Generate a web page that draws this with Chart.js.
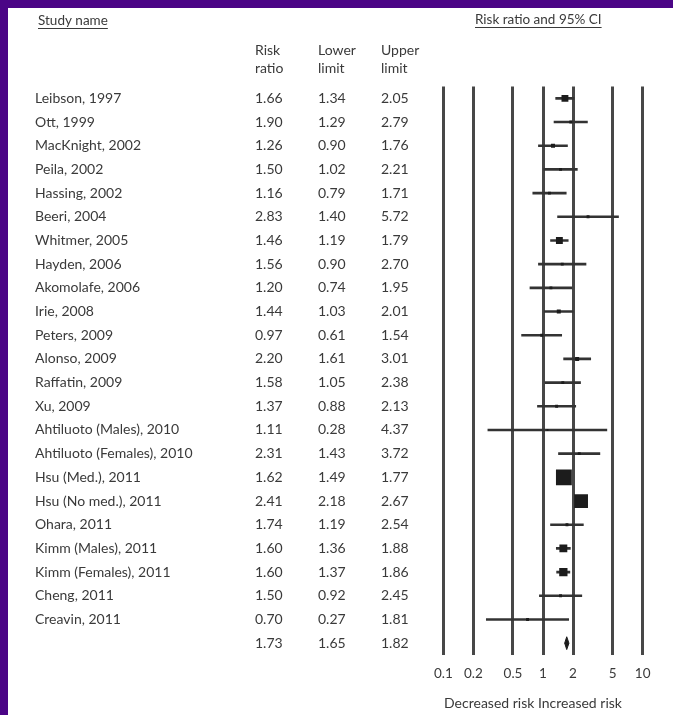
<!DOCTYPE html>
<html>
<head>
<meta charset="utf-8">
<script src="https://cdn.jsdelivr.net/npm/chart.js@4.4.1/dist/chart.umd.min.js"></script>
<style>
  html, body { margin: 0; padding: 0; }
  body { width: 673px; height: 715px; background: #4b0586; position: relative; overflow: hidden; }
  #panel { position: absolute; left: 8px; top: 8px; width: 665px; height: 707px; background: #fff; }
</style>
</head>
<body>
<div id="panel"><canvas id="forest"></canvas></div>
<script>
// study rows, top to bottom
const studies = [
  'Leibson, 1997', 'Ott, 1999', 'MacKnight, 2002', 'Peila, 2002', 'Hassing, 2002',
  'Beeri, 2004', 'Whitmer, 2005', 'Hayden, 2006', 'Akomolafe, 2006', 'Irie, 2008',
  'Peters, 2009', 'Alonso, 2009', 'Raffatin, 2009', 'Xu, 2009',
  'Ahtiluoto (Males), 2010', 'Ahtiluoto (Females), 2010', 'Hsu (Med.), 2011',
  'Hsu (No med.), 2011', 'Ohara, 2011', 'Kimm (Males), 2011', 'Kimm (Females), 2011',
  'Cheng, 2011', 'Creavin, 2011'
];
const riskRatio = [1.66, 1.90, 1.26, 1.50, 1.16, 2.83, 1.46, 1.56, 1.20, 1.44, 0.97, 2.20,
  1.58, 1.37, 1.11, 2.31, 1.62, 2.41, 1.74, 1.60, 1.60, 1.50, 0.70];
const lowerLimit = [1.34, 1.29, 0.90, 1.02, 0.79, 1.40, 1.19, 0.90, 0.74, 1.03, 0.61, 1.61,
  1.05, 0.88, 0.28, 1.43, 1.49, 2.18, 1.19, 1.36, 1.37, 0.92, 0.27];
const upperLimit = [2.05, 2.79, 1.76, 2.21, 1.71, 5.72, 1.79, 2.70, 1.95, 2.01, 1.54, 3.01,
  2.38, 2.13, 4.37, 3.72, 1.77, 2.67, 2.54, 1.88, 1.86, 2.45, 1.81];
const weights = [5.1, 0.9, 1.7, 0.9, 0.9, 0.9, 5.1, 0.9, 0.9, 1.7, 0.9, 1.7,
  0.9, 0.9, 0.4, 0.9, 27, 20.5, 0.9, 6.7, 7.4, 0.9, 0.9];
// pooled estimate: risk ratio, lower, upper
const pooled = [1.73, 1.65, 1.82];
const tickValues = [0.1, 0.2, 0.5, 1, 2, 5, 10];
const tickLabels = ['0.1', '0.2', '0.5', '1', '2', '5', '10'];

const textColor = '#3a3a3a';
const markColor = '#1c1c1c';
const fontFamily = 'Lato, "Open Sans", sans-serif';
const pooledRow = studies.length;

// text columns: names, values and headers
const tablePlugin = {
  id: 'studyTable',
  afterDraw(chart) {
    const { ctx, scales: { x, y } } = chart;
    ctx.save();
    ctx.fillStyle = textColor;
    ctx.strokeStyle = textColor;
    ctx.font = '14px ' + fontFamily;
    ctx.textBaseline = 'middle';
    ctx.textAlign = 'left';

    const colName = 27, colRR = 247, colLo = 310, colHi = 373;
    studies.forEach((name, i) => {
      const py = y.getPixelForValue(i);
      ctx.fillText(name, colName, py);
      ctx.fillText(riskRatio[i].toFixed(2), colRR, py);
      ctx.fillText(lowerLimit[i].toFixed(2), colLo, py);
      ctx.fillText(upperLimit[i].toFixed(2), colHi, py);
    });
    const pp = y.getPixelForValue(pooledRow);
    ctx.fillText(pooled[0].toFixed(2), colRR, pp);
    ctx.fillText(pooled[1].toFixed(2), colLo, pp);
    ctx.fillText(pooled[2].toFixed(2), colHi, pp);

    // column headers
    ctx.fillText('Risk', colRR, 42);
    ctx.fillText('ratio', colRR, 60);
    ctx.fillText('Lower', colLo, 42);
    ctx.fillText('limit', colLo, 60);
    ctx.fillText('Upper', colHi, 42);
    ctx.fillText('limit', colHi, 60);

    // underlined titles
    ctx.font = '13.5px ' + fontFamily;
    const underline = (txt, tx, ty) => {
      ctx.fillText(txt, tx, ty);
      const w = ctx.measureText(txt).width;
      ctx.lineWidth = 1;
      ctx.beginPath();
      ctx.moveTo(tx, ty + 7.5);
      ctx.lineTo(tx + w, ty + 7.5);
      ctx.stroke();
    };
    underline('Study name', 30, 13);
    underline('Risk ratio and 95% CI', 467, 12);

    // caption under the axis
    ctx.font = '14px ' + fontFamily;
    ctx.textAlign = 'center';
    ctx.fillText('Decreased risk Increased risk', x.getPixelForValue(1) - 10, 695);
    ctx.restore();
  }
};

const ctx = document.getElementById('forest').getContext('2d');
const forestChart = new Chart(ctx, {
  type: 'scatter',
  data: {
    datasets: [
      {
        // confidence intervals
        type: 'bar',
        indexAxis: 'y',
        data: studies.map((s, i) => ({ y: i, x: [lowerLimit[i], upperLimit[i]] })),
        backgroundColor: '#333333',
        borderWidth: 0,
        barThickness: 2,
        order: 3
      },
      {
        // point estimates, square area follows weight
        type: 'scatter',
        data: studies.map((s, i) => ({ x: riskRatio[i], y: i })),
        pointStyle: 'rect',
        pointRadius: c => Math.sqrt(weights[c.dataIndex]) * 3.05 / Math.SQRT2,
        backgroundColor: markColor,
        borderWidth: 0,
        order: 2
      },
      {
        // pooled estimate diamond
        type: 'line',
        data: [
          { x: pooled[1], y: pooledRow },
          { x: pooled[0], y: pooledRow - 0.27 },
          { x: pooled[2], y: pooledRow },
          { x: pooled[0], y: pooledRow + 0.27 },
          { x: pooled[1], y: pooledRow }
        ],
        borderColor: markColor,
        backgroundColor: markColor,
        borderWidth: 1,
        pointRadius: 0,
        tension: 0,
        fill: 'shape',
        order: 1
      }
    ]
  },
  options: {
    responsive: true,
    maintainAspectRatio: false,
    animation: false,
    events: [],
    layout: { padding: { left: 435.3, right: 30.3, top: 78.5, bottom: 0 } },
    plugins: {
      legend: { display: false },
      tooltip: { enabled: false }
    },
    scales: {
      x: {
        type: 'logarithmic',
        position: 'bottom',
        min: 0.1,
        max: 10,
        offset: false,
        afterBuildTicks: s => { s.ticks = tickValues.map(v => ({ value: v })); },
        afterFit: s => { s.height = 60; },
        border: { display: false },
        grid: { color: '#474747', lineWidth: 3, drawTicks: false, offset: false },
        ticks: {
          autoSkip: false,
          maxRotation: 0,
          padding: 11,
          color: textColor,
          font: { family: fontFamily, size: 13.5 },
          callback: v => tickLabels[tickValues.indexOf(v)]
        }
      },
      y: {
        type: 'linear',
        display: false,
        reverse: true,
        offset: false,
        grace: 0,
        min: -0.5,
        max: pooledRow + 0.5
      }
    }
  },
  plugins: [tablePlugin]
});
</script>
</body>
</html>
